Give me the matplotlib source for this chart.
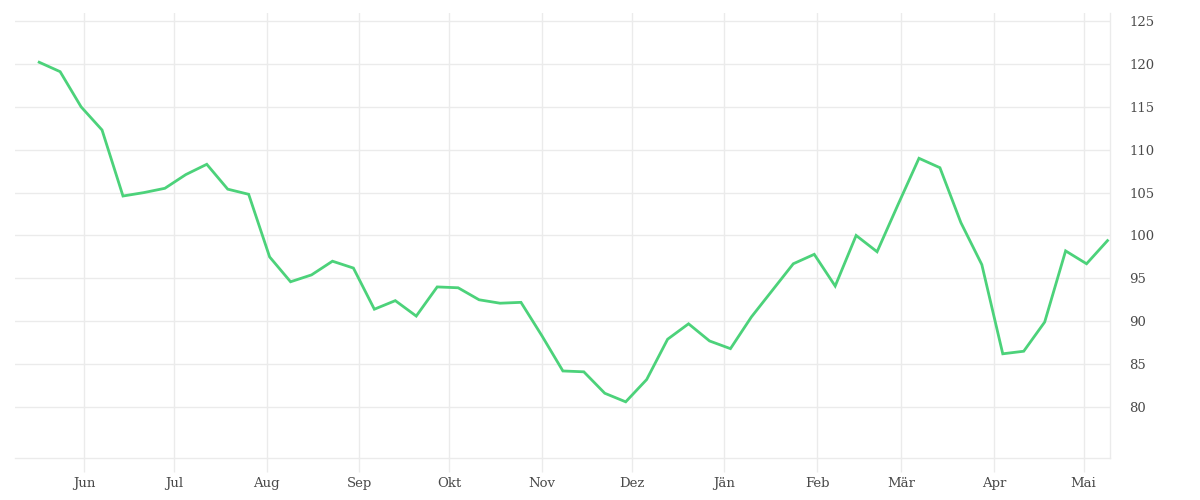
import numpy as np
import pandas as pd
import matplotlib.pyplot as plt
import matplotlib.dates as mdates

# weekly values
start = '2022-05-17'
values = [120.2, 119.1, 115.0, 112.3, 104.6, 105.0, 105.5, 107.1, 108.3, 105.4,
          104.8, 97.5, 94.6, 95.4, 97.0, 96.2, 91.4, 92.4, 90.6, 94.0,
          93.9, 92.5, 92.1, 92.2, 88.3, 84.2, 84.1, 81.6, 80.6, 83.2,
          87.9, 89.7, 87.7, 86.8, 90.5, 93.6, 96.7, 97.8, 94.1, 100.0,
          98.1, 103.6, 109.0, 107.9, 101.5, 96.6, 86.2, 86.5, 89.9, 98.2,
          96.7, 99.4]
month_labels = ['Jun', 'Jul', 'Aug', 'Sep', 'Okt', 'Nov', 'Dez',
                'Jän', 'Feb', 'Mär', 'Apr', 'Mai']
y_ticks = [80, 85, 90, 95, 100, 105, 110, 115, 120, 125]

dates = pd.date_range(start, periods=len(values), freq='7D')
month_ticks = pd.date_range('2022-06-01', periods=len(month_labels), freq='MS')

grid_col = '#ebebeb'
txt_col = '#4a4a4a'

fig = plt.figure(figsize=(12, 5), dpi=100)
ax = fig.add_axes([0.0125, 0.084, 0.9125, 0.891])

ax.plot(dates, values, color='#4cd27a', linewidth=2.0, zorder=3,
        solid_joinstyle='miter')

ax.set_xlim(pd.Timestamp('2022-05-08 22:00'), dates[-1] + pd.Timedelta('20h'))
ax.set_ylim(74.05, 126.0)

ax.set_xticks(month_ticks)
ax.set_xticklabels(month_labels)
ax.set_yticks(y_ticks)
ax.yaxis.tick_right()

ax.grid(True, color=grid_col, linewidth=1.0, zorder=0)
for s in ['top', 'left']:
    ax.spines[s].set_visible(False)
for s in ['bottom', 'right']:
    ax.spines[s].set_color(grid_col)
    ax.spines[s].set_linewidth(1.0)

ax.tick_params(axis='x', length=10, color=grid_col, width=1.0, pad=4,
               labelsize=9.5, labelcolor=txt_col)
ax.tick_params(axis='y', length=0, pad=14, labelsize=9.5, labelcolor=txt_col)
for lab in ax.get_xticklabels() + ax.get_yticklabels():
    lab.set_family('DejaVu Serif')

fig.savefig('out.png', dpi=100)
